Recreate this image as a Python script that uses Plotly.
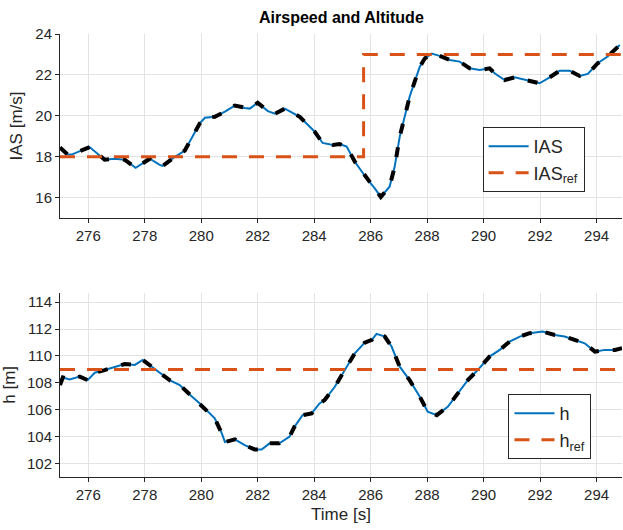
import plotly.graph_objects as go

# ---- Data ----
t_ias = [275.0, 275.27, 275.41, 276.05, 276.58, 276.94, 277.29, 277.68, 278.18, 278.53,
         278.64, 279.06, 279.42, 279.95, 280.13, 280.48, 280.84, 281.19, 281.54, 281.72,
         282.0, 282.36, 282.61, 282.96, 283.49, 284.02, 284.3, 284.66, 284.9, 285.15,
         285.44, 285.9, 286.14, 286.36, 286.67, 286.85, 287.03, 287.21, 287.38, 287.56,
         287.74, 287.92, 288.16, 288.44, 288.8, 289.15, 289.51, 289.86, 290.21, 290.39,
         290.74, 291.1, 291.45, 291.98, 292.34, 292.69, 293.05, 293.4, 293.69, 294.04,
         294.39, 294.82]
ias = [18.45, 18.1, 18.1, 18.47, 17.85, 17.9, 17.85, 17.45, 17.9, 17.6,
       17.55, 17.98, 18.3, 19.63, 19.9, 19.95, 20.2, 20.5, 20.38, 20.35,
       20.64, 20.23, 20.1, 20.35, 19.95, 19.22, 18.67, 18.57, 18.62, 18.49,
       17.75, 16.86, 16.46, 16.03, 16.53, 17.5, 18.98, 20.04, 20.93, 21.67,
       22.4, 22.81, 23.04, 22.93, 22.73, 22.65, 22.32, 22.24, 22.32, 22.08,
       21.75, 21.88, 21.75, 21.59, 21.88, 22.2, 22.2, 21.95, 22.05, 22.57,
       22.9, 23.46]
t_ias_ref = [275.0, 285.75, 285.75, 294.9]
ias_ref = [18, 18, 23, 23]

t_h = [275.0, 275.1, 275.34, 275.7, 275.98, 276.23, 276.58, 276.94, 277.29, 277.65,
       277.93, 278.25, 278.53, 278.88, 279.24, 279.52, 279.95, 280.3, 280.48, 280.73,
       280.84, 281.19, 281.54, 281.89, 282.14, 282.42, 282.77, 283.13, 283.3, 283.59,
       283.91, 284.19, 284.37, 284.73, 285.08, 285.44, 285.79, 286.04, 286.21, 286.5,
       286.74, 287.03, 287.38, 287.74, 288.02, 288.34, 288.73, 289.08, 289.44, 289.79,
       290.21, 290.57, 290.92, 291.28, 291.63, 292.09, 292.52, 292.87, 293.23, 293.58,
       293.94, 294.29, 294.65, 294.9]
h = [107.84, 108.4, 108.25, 108.46, 108.2, 108.75, 108.95, 109.16, 109.4, 109.33,
     109.7, 109.2, 108.75, 108.2, 107.84, 107.26, 106.47, 105.73, 105.36, 104.24,
     103.6, 103.8, 103.37, 103.05, 103.05, 103.5, 103.5, 104.0, 104.73, 105.6,
     105.73, 106.47, 106.72, 107.71, 108.95, 110.2, 110.99, 111.19, 111.64, 111.44,
     110.7, 109.2, 108.2, 106.97, 105.85, 105.6, 106.22, 107.22, 108.2, 108.95,
     109.95, 110.45, 111.07, 111.44, 111.69, 111.81, 111.56, 111.44, 111.19, 110.94,
     110.32, 110.45, 110.45, 110.57]
t_h_ref = [275.0, 294.9]
h_ref = [109, 109]

x_ticks = [276, 278, 280, 282, 284, 286, 288, 290, 292, 294]
ias_ticks = [16, 18, 20, 22, 24]
h_ticks = [102, 104, 106, 108, 110, 112, 114]

BLUE = "#0072BD"
ORANGE = "#D95319"
AX = "#262626"
GRID = "#e3e3e3"
FONT = "Liberation Sans, Arial, sans-serif"

fig = go.Figure()

# Top: IAS
fig.add_trace(go.Scatter(x=t_ias, y=ias, mode="lines", name="IAS",
                         line=dict(color=BLUE, width=2), xaxis="x", yaxis="y",
                         legend="legend"))
fig.add_trace(go.Scatter(x=t_ias, y=ias, mode="lines", showlegend=False,
                         line=dict(color="black", width=4, dash="10px,14px"),
                         xaxis="x", yaxis="y", hoverinfo="skip"))
fig.add_trace(go.Scatter(x=t_ias_ref, y=ias_ref, mode="lines", name="IAS<sub>ref</sub>",
                         line=dict(color=ORANGE, width=3, dash="15px,12px"),
                         xaxis="x", yaxis="y", legend="legend"))

# Bottom: h
fig.add_trace(go.Scatter(x=t_h, y=h, mode="lines", name="h",
                         line=dict(color=BLUE, width=2), xaxis="x2", yaxis="y2",
                         legend="legend2"))
fig.add_trace(go.Scatter(x=t_h, y=h, mode="lines", showlegend=False,
                         line=dict(color="black", width=4, dash="10px,14px"),
                         xaxis="x2", yaxis="y2", hoverinfo="skip"))
fig.add_trace(go.Scatter(x=t_h_ref, y=h_ref, mode="lines", name="h<sub>ref</sub>",
                         line=dict(color=ORANGE, width=3, dash="15px,12px"),
                         xaxis="x2", yaxis="y2", legend="legend2"))

axis_common = dict(showgrid=True, gridcolor=GRID, gridwidth=1, showline=True,
                   linecolor=AX, linewidth=1, ticks="outside", ticklen=4,
                   tickcolor=AX, tickfont=dict(family=FONT, size=15, color=AX),
                   zeroline=False)

legend_common = dict(bgcolor="white", bordercolor=AX, borderwidth=1,
                     font=dict(family=FONT, size=18, color=AX),
                     xanchor="left", yanchor="top", tracegroupgap=2, itemwidth=40)

fig.update_layout(
    width=623, height=530,
    margin=dict(l=60, r=1, t=34, b=53),
    plot_bgcolor="white", paper_bgcolor="white",
    font=dict(family=FONT, color=AX),
    xaxis=dict(domain=[0, 1], range=[275, 294.9], tickvals=x_ticks, anchor="y",
               **axis_common),
    yaxis=dict(domain=[0.5847, 1], range=[15, 24], tickvals=ias_ticks, anchor="x",
               title=dict(text="IAS [m/s]", font=dict(family=FONT, size=17, color=AX),
                          standoff=8),
               **axis_common),
    xaxis2=dict(domain=[0, 1], range=[275, 294.9], tickvals=x_ticks, anchor="y2",
                title=dict(text="Time [s]", font=dict(family=FONT, size=17, color=AX),
                           standoff=6),
                **axis_common),
    yaxis2=dict(domain=[0, 0.416], range=[101, 114.7], tickvals=h_ticks, anchor="x2",
                title=dict(text="h [m]", font=dict(family=FONT, size=17, color=AX),
                           standoff=8),
                **axis_common),
    legend=dict(x=0.752, y=0.79, **legend_common),
    legend2=dict(x=0.798, y=0.187, **legend_common),
    title=dict(text="<b>Airspeed and Altitude</b>", x=0.548, xanchor="center",
               y=1 - 17 / 530, yanchor="middle",
               font=dict(family=FONT, size=16, color="black")),
)

fig.write_html("out.html")
